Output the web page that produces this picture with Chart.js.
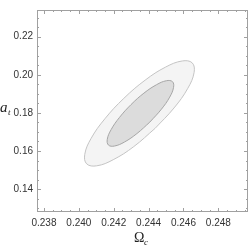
<!DOCTYPE html>
<html>
<head>
<meta charset="utf-8">
<script src="https://cdn.jsdelivr.net/npm/chart.js@4"></script>
<style>
  body { margin: 0; background: #fff; }
  canvas { display: block; }
</style>
</head>
<body>
<canvas id="contourChart" width="249" height="246"></canvas>
<script>
// axis ticks
const omegaTicks = [0.238, 0.240, 0.242, 0.244, 0.246, 0.248];
const aTicks = [0.14, 0.16, 0.18, 0.20, 0.22];

// outer (light) confidence contour
const outerOmega = [0.24437, 0.24315, 0.24197, 0.24103, 0.24045, 0.24034, 0.24070, 0.24149, 0.24258,
    0.24380, 0.24498, 0.24593, 0.24650, 0.24661, 0.24625, 0.24546, 0.24437];
const outerA = [0.17187, 0.16232, 0.15543, 0.15224, 0.15324, 0.15827, 0.16658, 0.17689, 0.18764,
    0.19718, 0.20408, 0.20726, 0.20627, 0.20125, 0.19293, 0.18261, 0.17187];

// inner (dark) confidence contour
const innerOmega = [0.24407, 0.24333, 0.24262, 0.24204, 0.24170, 0.24163, 0.24185, 0.24233, 0.24299,
    0.24373, 0.24445, 0.24502, 0.24537, 0.24543, 0.24521, 0.24473, 0.24407];
const innerA = [0.17517, 0.16915, 0.16474, 0.16261, 0.16310, 0.16612, 0.17122, 0.17762, 0.18434,
    0.19036, 0.19477, 0.19689, 0.19640, 0.19338, 0.18829, 0.18189, 0.17517];

const toPoints = (xs, ys) => xs.map((x, i) => ({ x: x, y: ys[i] }));

// frame with inward ticks on all four sides, plus axis titles
const framePlugin = {
    id: 'frame',
    afterDraw(chart) {
        const ctx = chart.ctx;
        const { left, right, top, bottom } = chart.chartArea;
        const xs = chart.scales.x, ys = chart.scales.y;
        ctx.save();
        ctx.strokeStyle = '#a0a0a0';
        ctx.lineWidth = 1;
        ctx.strokeRect(left + 0.5, top + 0.5, right - left - 1, bottom - top - 1);

        ctx.beginPath();
        // x ticks, minor every 0.0005
        for (let i = Math.ceil(xs.min / 0.0005); i * 0.0005 <= xs.max; i++) {
            const px = Math.round(xs.getPixelForValue(i * 0.0005)) + 0.5;
            const len = i % 4 === 0 ? 4 : 2;
            ctx.moveTo(px, bottom); ctx.lineTo(px, bottom - len);
            ctx.moveTo(px, top); ctx.lineTo(px, top + len);
        }
        // y ticks, minor every 0.005
        for (let i = Math.ceil(ys.min / 0.005); i * 0.005 <= ys.max; i++) {
            const py = Math.round(ys.getPixelForValue(i * 0.005)) + 0.5;
            const len = i % 4 === 0 ? 4 : 2;
            ctx.moveTo(left, py); ctx.lineTo(left + len, py);
            ctx.moveTo(right, py); ctx.lineTo(right - len, py);
        }
        ctx.stroke();

        // axis titles
        ctx.fillStyle = '#222';
        ctx.textBaseline = 'alphabetic';
        ctx.font = 'italic 15px "Liberation Serif"';
        ctx.fillText('a', 0, 112);
        ctx.font = 'italic 9px "Liberation Serif"';
        ctx.fillText('t', 8, 115);
        ctx.font = '14px "Liberation Serif"';
        ctx.fillText('Ω', 134, 242);
        ctx.font = 'italic 9px "Liberation Serif"';
        ctx.fillText('c', 144, 245);
        ctx.restore();
    }
};

new Chart(document.getElementById('contourChart'), {
    type: 'scatter',
    data: {
        datasets: [{
            label: 'inner',
            data: toPoints(innerOmega, innerA),
            showLine: true,
            borderColor: '#a6a6a6',
            backgroundColor: '#dcdcdc',
            borderWidth: 1,
            pointRadius: 0,
            tension: 0.4,
            fill: 'shape',
            order: 1
        }, {
            label: 'outer',
            data: toPoints(outerOmega, outerA),
            showLine: true,
            borderColor: '#c4c4c4',
            backgroundColor: '#f4f4f4',
            borderWidth: 1,
            pointRadius: 0,
            tension: 0.4,
            fill: 'shape',
            order: 2
        }]
    },
    options: {
        responsive: false,
        animation: false,
        layout: { padding: { top: 0, right: 1, left: 0, bottom: 0 } },
        plugins: { legend: { display: false }, tooltip: { enabled: false } },
        scales: {
            x: {
                type: 'linear',
                min: 0.2376,
                max: 0.2497,
                afterBuildTicks: s => { s.ticks = omegaTicks.map(v => ({ value: v })); },
                afterFit: s => { s.height = 34; },
                grid: { display: false, drawTicks: false },
                border: { display: false },
                ticks: {
                    padding: 5,
                    maxRotation: 0,
                    color: '#333',
                    font: { family: 'Liberation Sans', size: 10 },
                    callback: v => v.toFixed(3)
                }
            },
            y: {
                type: 'linear',
                min: 0.128,
                max: 0.234,
                afterBuildTicks: s => { s.ticks = aTicks.map(v => ({ value: v })); },
                afterFit: s => { s.width = 37; },
                grid: { display: false, drawTicks: false },
                border: { display: false },
                ticks: {
                    padding: 4,
                    color: '#333',
                    font: { family: 'Liberation Sans', size: 10 },
                    callback: v => v.toFixed(2)
                }
            }
        }
    },
    plugins: [framePlugin]
});
</script>
</body>
</html>
